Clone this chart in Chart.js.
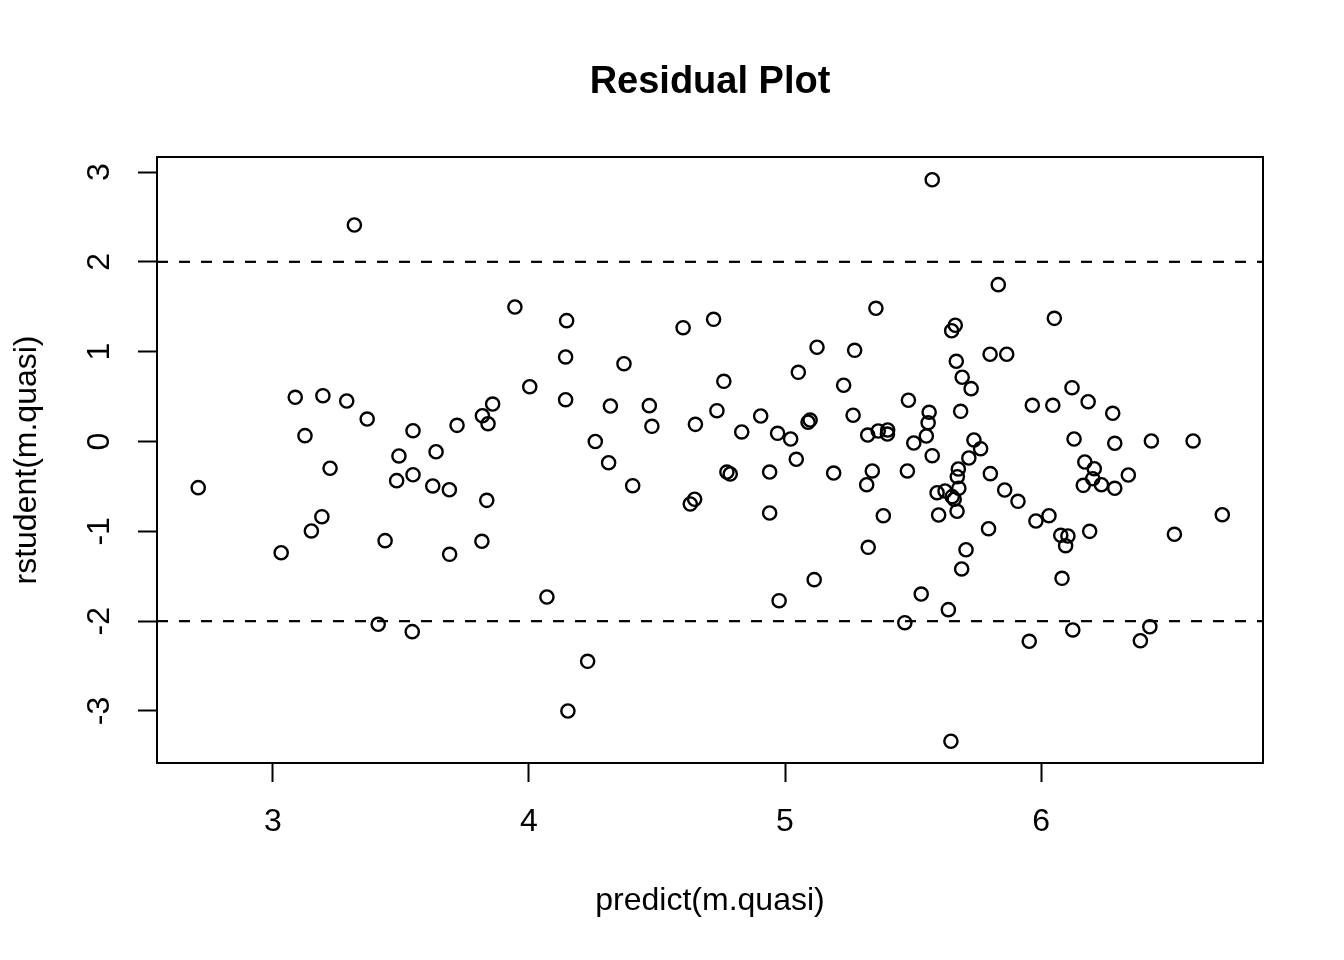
<!DOCTYPE html>
<html><head><meta charset="utf-8">
<script src="https://cdn.jsdelivr.net/npm/chart.js@4/dist/chart.umd.min.js"></script>
<style>html,body{margin:0;padding:0;background:#fff;} canvas{display:block;}</style>
</head><body>
<canvas id="c" width="1344" height="960"></canvas>
<script>
const predicted = [2.708,3.032,3.087,3.125,3.150,3.191,3.195,3.223,3.288,3.318,3.368,3.411,3.438,3.483,3.492,3.544,3.547,3.547,3.624,3.637,
3.689,3.690,3.719,3.818,3.816,3.835,3.840,3.858,3.945,4.003,4.070,4.143,4.147,4.143,4.152,4.229,4.259,4.311,4.318,4.371,
4.405,4.470,4.480,4.602,4.630,4.647,4.650,4.721,4.734,4.761,4.773,4.786,4.831,4.905,4.940,4.940,4.971,4.977,5.022,5.044,
5.052,5.090,5.098,5.114,5.125,5.190,5.229,5.266,5.272,5.319,5.323,5.325,5.341,5.355,5.364,5.384,5.400,5.401,5.468,5.478,
5.482,5.503,5.532,5.552,5.559,5.563,5.575,5.575,5.594,5.600,5.625,5.638,5.648,5.651,5.653,5.661,5.665,5.669,5.673,5.677,
5.672,5.679,5.686,5.690,5.692,5.707,5.718,5.727,5.738,5.764,5.795,5.801,5.802,5.833,5.858,5.866,5.910,5.954,5.966,5.980,
6.031,6.046,6.052,6.077,6.082,6.096,6.105,6.121,6.124,6.129,6.165,6.171,6.184,6.190,6.202,6.208,6.236,6.280,6.288,6.288,
6.341,6.388,6.425,6.431,6.521,6.594,6.708];
const rstudent = [-0.514,-1.238,0.492,0.065,-0.996,-0.837,0.510,-0.298,0.451,2.410,0.250,-2.035,-1.104,-0.436,-0.161,-2.117,0.120,-0.370,-0.495,-0.114,
-0.537,-1.256,0.180,0.287,-1.111,-0.655,0.198,0.417,1.497,0.610,-1.731,0.941,1.345,0.465,-3.000,-2.447,0.000,-0.236,0.395,0.866,
-0.492,0.399,0.169,1.267,-0.696,-0.643,0.191,1.360,0.343,0.670,-0.340,-0.362,0.106,0.284,-0.340,-0.796,0.091,-1.772,0.028,-0.198,
0.770,0.214,0.239,-1.538,1.049,-0.351,0.626,0.292,1.015,-0.481,0.072,-1.178,-0.328,1.483,0.117,-0.826,0.083,0.128,-2.017,-0.328,
0.459,-0.017,-1.698,0.061,0.209,0.325,2.914,-0.158,-0.570,-0.818,-0.551,-1.872,-3.337,1.233,-0.614,-0.643,1.294,0.893,-0.392,-0.306,
-0.777,-0.521,0.336,-1.419,0.715,-1.205,-0.184,0.588,0.017,-0.080,-0.971,0.971,-0.358,1.746,-0.540,0.971,-0.666,-2.224,0.403,-0.885,
-0.826,0.403,1.371,-1.044,-1.523,-1.160,-1.052,0.599,-2.098,0.028,-0.488,-0.228,0.443,-1.000,-0.414,-0.303,-0.481,0.314,-0.020,-0.521,
-0.373,-2.218,-2.062,0.006,-1.033,0.006,-0.815];
const xTickValues = [3, 4, 5, 6];
const yTickValues = [-3, -2, -1, 0, 1, 2, 3];
const xLimits = [2.547, 6.867];
const yLimits = [-3.579, 3.167];
const refLevels = [2, -2];
const titleText = 'Residual Plot';
const xLabel = 'predict(m.quasi)';
const yLabel = 'rstudent(m.quasi)';

const FONT = '"Liberation Sans", Arial, Helvetica, sans-serif';
Chart.defaults.font.family = FONT;
Chart.defaults.color = '#000';

const points = predicted.map((x, i) => ({x: x, y: rstudent[i]}));
const refDatasets = refLevels.map(v => ({
  type: 'line',
  data: [{x: xLimits[0], y: v}, {x: xLimits[1], y: v}],
  borderColor: '#000', borderWidth: 2.2, borderDash: [11, 11],
  pointRadius: 0, fill: false, showLine: true, order: 2
}));

const decor = {
  id: 'decor',
  beforeDraw(chart) {
    const ctx = chart.ctx;
    ctx.save(); ctx.fillStyle = '#fff'; ctx.fillRect(0, 0, chart.width, chart.height); ctx.restore();
  },
  afterDraw(chart) {
    const ctx = chart.ctx, a = chart.chartArea;
    ctx.save();
    ctx.strokeStyle = '#000'; ctx.lineWidth = 2;
    ctx.strokeRect(a.left, a.top, a.right - a.left, a.bottom - a.top);
    ctx.fillStyle = '#000';
    ctx.textAlign = 'center'; ctx.textBaseline = 'alphabetic';
    const cx = (a.left + a.right) / 2, cy = (a.top + a.bottom) / 2;
    ctx.font = 'bold 38px ' + FONT;
    ctx.fillText(titleText, cx, 93);
    ctx.font = '32px ' + FONT;
    ctx.fillText(xLabel, cx, 910);
    ctx.translate(36, cy); ctx.rotate(-Math.PI / 2);
    ctx.fillText(yLabel, 0, 0);
    ctx.restore();
  }
};

new Chart(document.getElementById('c'), {
  type: 'scatter',
  data: {
    datasets: [{
      data: points,
      borderColor: '#000', backgroundColor: 'rgba(0,0,0,0)',
      pointRadius: 6.6, pointBorderWidth: 2.4, pointHoverRadius: 6.6,
      pointStyle: 'circle', order: 1
    }].concat(refDatasets)
  },
  options: {
    responsive: false, animation: false, devicePixelRatio: 1,
    layout: {padding: {left: 0, top: 157, right: 81, bottom: 0}},
    plugins: {legend: {display: false}, title: {display: false}, tooltip: {enabled: false}},
    events: [],
    scales: {
      x: {
        type: 'linear', position: 'bottom', min: xLimits[0], max: xLimits[1],
        afterBuildTicks: s => { s.ticks = xTickValues.map(v => ({value: v})); },
        afterFit: s => { s.height = 197; },
        grid: {drawOnChartArea: false, drawTicks: true, tickLength: 19, tickWidth: 2, tickColor: '#000'},
        border: {display: false},
        ticks: {font: {size: 32}, color: '#000', padding: 21, maxRotation: 0, minRotation: 0,
                callback: v => String(v)}
      },
      y: {
        type: 'linear', position: 'left', min: yLimits[0], max: yLimits[1],
        afterBuildTicks: s => { s.ticks = yTickValues.map(v => ({value: v})); },
        afterFit: s => { s.width = 157; },
        grid: {drawOnChartArea: false, drawTicks: true, tickLength: 19, tickWidth: 2, tickColor: '#000'},
        border: {display: false},
        ticks: {font: {size: 32}, color: '#000', padding: 24, minRotation: 90, maxRotation: 90,
                crossAlign: 'center', callback: v => String(v)}
      }
    }
  },
  plugins: [decor]
});
</script>
</body></html>
